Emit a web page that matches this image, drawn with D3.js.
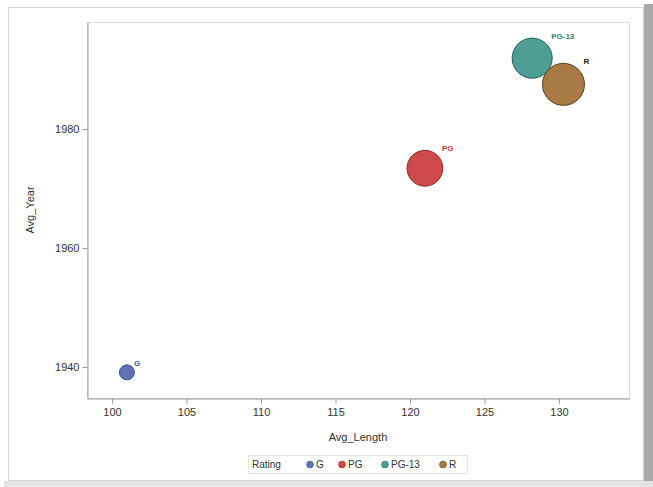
<!DOCTYPE html>
<html><head><meta charset="utf-8">
<script src="https://cdn.jsdelivr.net/npm/d3@7"></script>
<style>body{margin:0;background:#fff}svg{display:block}</style>
</head><body>
<svg id="c" width="653" height="487"></svg>
<script>
const ratings = ["G", "PG", "PG-13", "R"];
const avgLength = [101.0, 121.0, 128.2, 130.3];
const avgYear = [1939.1, 1973.4, 1991.9, 1987.5];
const filmCount = [14, 80, 100, 110];
const xTicks = [100, 105, 110, 115, 120, 125, 130];
const yTicks = [1940, 1960, 1980];

const fills = ["#5f72b3", "#cd4a48", "#4f9e96", "#a87a45"];
const strokes = ["#3f4f8a", "#8f2a28", "#1f5f58", "#5a3a12"];
const labelColors = ["#4a5a9a", "#c03a38", "#2f7f78", "#222"];

const svg = d3.select("#c");
// card
svg.append("rect").attr("x", 644).attr("y", 4).attr("width", 9).attr("height", 483).attr("fill", "#a8a8a8");
svg.append("rect").attr("x", 4).attr("y", 481).attr("width", 649).attr("height", 6).attr("fill", "#e4e4e4");
svg.append("rect").attr("x", 8.5).attr("y", 7.5).attr("width", 635).attr("height", 473)
  .attr("fill", "#fff").attr("stroke", "#d4d4d4");

const L = 87, T = 22, R = 629, B = 398;
const x = d3.scaleLinear().domain([98.322, 134.698]).range([L, R]);
const y = d3.scaleLinear().domain([1934.79, 1997.98]).range([B, T]);
const r = d3.scaleSqrt().domain([0, 110]).range([0, 21]);

// wall frame
svg.append("rect").attr("x", L + 0.5).attr("y", T + 0.5).attr("width", R - L).attr("height", B - T)
  .attr("fill", "#fff").attr("stroke", "#dcdcdc");

const font = "Liberation Sans, Arial, sans-serif";
const xa = svg.append("g").attr("transform", `translate(0,${B + 0.5})`)
  .call(d3.axisBottom(x).tickValues(xTicks).tickFormat(d3.format("d")).tickSize(5).tickPadding(5).tickSizeOuter(0));
const ya = svg.append("g").attr("transform", `translate(${L + 0.5},0)`)
  .call(d3.axisLeft(y).tickValues(yTicks).tickFormat(d3.format("d")).tickSize(5).tickPadding(3).tickSizeOuter(0));
[xa, ya].forEach(a => {
  a.select(".domain").attr("stroke", "#9a9a9a");
  a.selectAll(".tick line").attr("stroke", "#9a9a9a");
  a.selectAll("text").attr("fill", "#333").style("font-family", font).style("font-size", "11px");
});

svg.append("text").attr("x", (L + R) / 2).attr("y", 441).attr("text-anchor", "middle")
  .style("font-family", font).style("font-size", "11px").attr("fill", "#333").text("Avg_Length");
svg.append("text").attr("transform", `translate(34,${(T + B) / 2}) rotate(-90)`).attr("text-anchor", "middle")
  .style("font-family", font).style("font-size", "11px").attr("fill", "#333").text("Avg_Year");

const data = ratings.map((d, i) => ({ name: d, x: avgLength[i], y: avgYear[i], n: filmCount[i], i }));
const g = svg.append("g");
g.selectAll("circle").data(data).join("circle")
  .attr("cx", d => x(d.x)).attr("cy", d => y(d.y)).attr("r", d => r(d.n))
  .attr("fill", d => fills[d.i]).attr("stroke", d => strokes[d.i]).attr("stroke-width", 1);
g.selectAll("text").data(data).join("text")
  .attr("x", d => x(d.x) + r(d.n) * 0.95)
  .attr("y", d => y(d.y) - r(d.n) + 1)
  .style("font-family", font).style("font-size", "8px").style("font-weight", "bold")
  .attr("fill", d => labelColors[d.i]).text(d => d.name);

// legend
const lg = svg.append("g");
lg.append("rect").attr("x", 248.5).attr("y", 455.5).attr("width", 219).attr("height", 18)
  .attr("fill", "#fff").attr("stroke", "#e2e2e2");
lg.append("text").attr("x", 252).attr("y", 468).style("font-family", font).style("font-size", "10px")
  .attr("fill", "#333").text("Rating");
const lx = [310, 342, 385, 443];
const items = lg.selectAll("g.it").data(data).join("g").attr("class", "it")
  .attr("transform", d => `translate(${lx[d.i]},464.5)`);
items.append("circle").attr("r", 3.5).attr("fill", d => fills[d.i]).attr("stroke", d => strokes[d.i]).attr("stroke-width", 0.5);
items.append("text").attr("x", 6).attr("y", 3.5).style("font-family", font).style("font-size", "10px")
  .attr("fill", "#333").text(d => d.name);
</script>
</body></html>
